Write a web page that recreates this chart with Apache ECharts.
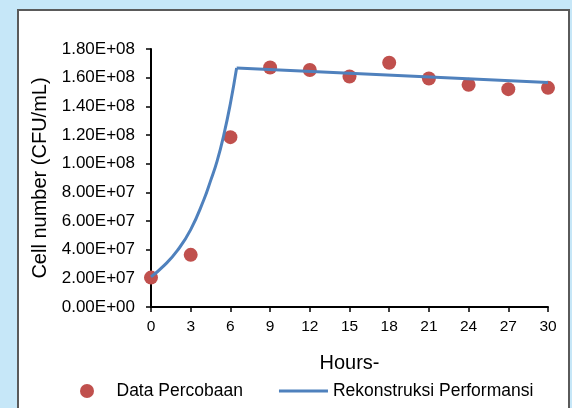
<!DOCTYPE html>
<html>
<head>
<meta charset="utf-8">
<script src="https://cdn.jsdelivr.net/npm/echarts@6/dist/echarts.min.js"></script>
<style>
  html, body { margin: 0; padding: 0; }
  #chart { width: 572px; height: 408px; }
</style>
</head>
<body>
<div id="chart"></div>
<script>
// Measured cell counts (CFU/mL) at each sampling hour
var sampleHours = [0, 3, 6, 9, 12, 15, 18, 21, 24, 27, 30];
var sampleCells = [2.05e7, 3.64e7, 1.185e8, 1.671e8, 1.653e8, 1.608e8, 1.704e8, 1.594e8, 1.55e8, 1.52e8, 1.529e8];

// Reconstructed growth curve: exponential phase up to the peak
var growthHours = [0, 1, 2, 3, 4, 4.5, 5, 5.5, 6, 6.47];
var growthCells = [2.1e7, 2.9e7, 3.95e7, 5.4e7, 7.5e7, 8.8e7, 1.02e8, 1.2e8, 1.42e8, 1.667e8];

// Reconstructed stationary phase, from the peak to the end
var plateauHours = [6.47, 30];
var plateauCells = [1.667e8, 1.566e8];

var xTicks = { min: 0, max: 30, step: 3 };
var yTicks = { min: 0, max: 1.8e8, step: 2e7 };

var FONT = '"Liberation Sans", Arial, sans-serif';

function pairs(xs, ys) {
  return xs.map(function (x, i) { return [x, ys[i]]; });
}

// 1.80E+08 style labels
function sci(v) {
  if (v === 0) return '0.00E+00';
  var e = Math.floor(Math.log10(Math.abs(v)) + 1e-9);
  var m = v / Math.pow(10, e);
  var es = (e < 0 ? '-' : '+') + (Math.abs(e) < 10 ? '0' : '') + Math.abs(e);
  return m.toFixed(2) + 'E' + es;
}

var chart = echarts.init(document.getElementById('chart'), null, { renderer: 'canvas' });

chart.setOption({
  backgroundColor: '#C6E7F8',
  animation: false,
  textStyle: { fontFamily: FONT, color: '#000' },
  graphic: [{
    type: 'rect',
    z: -10,
    silent: true,
    shape: { x: 18, y: 10, width: 551, height: 420 },
    style: { fill: '#ffffff', stroke: '#5a5a5a', lineWidth: 2 }
  }],
  grid: { left: 151, right: 24, top: 49, bottom: 101, containLabel: false },
  legend: {
    left: 80,
    top: 382,
    padding: 0,
    itemWidth: 49,
    itemHeight: 14,
    itemGap: 36,
    textStyle: { fontFamily: FONT, fontSize: 17.5, color: '#000' },
    data: [
      { name: 'Data Percobaan', icon: 'circle' },
      { name: 'Rekonstruksi Performansi', icon: 'path://M0,0H49V3H0Z' }
    ]
  },
  xAxis: {
    type: 'value',
    min: xTicks.min,
    max: xTicks.max,
    interval: xTicks.step,
    name: 'Hours-',
    nameLocation: 'middle',
    nameGap: 46,
    nameTextStyle: { fontFamily: FONT, fontSize: 20, color: '#000' },
    axisLine: { onZero: false, lineStyle: { color: '#000', width: 2 } },
    axisTick: { show: true, length: 5, lineStyle: { color: '#000', width: 1.5 } },
    axisLabel: { fontFamily: FONT, fontSize: 15.5, color: '#000', margin: 12 },
    splitLine: { show: false }
  },
  yAxis: {
    type: 'value',
    min: yTicks.min,
    max: yTicks.max,
    interval: yTicks.step,
    name: 'Cell number (CFU/mL)',
    nameLocation: 'middle',
    nameGap: 99,
    nameTextStyle: { fontFamily: FONT, fontSize: 20, color: '#000' },
    axisLine: { show: true, lineStyle: { color: '#000', width: 2 } },
    axisTick: { show: true, length: 5, lineStyle: { color: '#000', width: 1.5 } },
    axisLabel: { fontFamily: FONT, fontSize: 17, color: '#000', margin: 16, formatter: sci },
    splitLine: { show: false }
  },
  series: [
    {
      name: 'Data Percobaan',
      type: 'scatter',
      symbol: 'circle',
      symbolSize: 14,
      itemStyle: { color: '#C0504D', opacity: 1 },
      data: pairs(sampleHours, sampleCells)
    },
    {
      name: 'Rekonstruksi Performansi',
      type: 'line',
      smooth: 0.5,
      symbol: 'none',
      lineStyle: { color: '#4F81BD', width: 3 },
      itemStyle: { color: '#4F81BD' },
      data: pairs(growthHours, growthCells)
    },
    {
      name: 'Rekonstruksi Performansi',
      type: 'line',
      symbol: 'none',
      lineStyle: { color: '#4F81BD', width: 3 },
      itemStyle: { color: '#4F81BD' },
      data: pairs(plateauHours, plateauCells)
    }
  ]
});
</script>
</body>
</html>
